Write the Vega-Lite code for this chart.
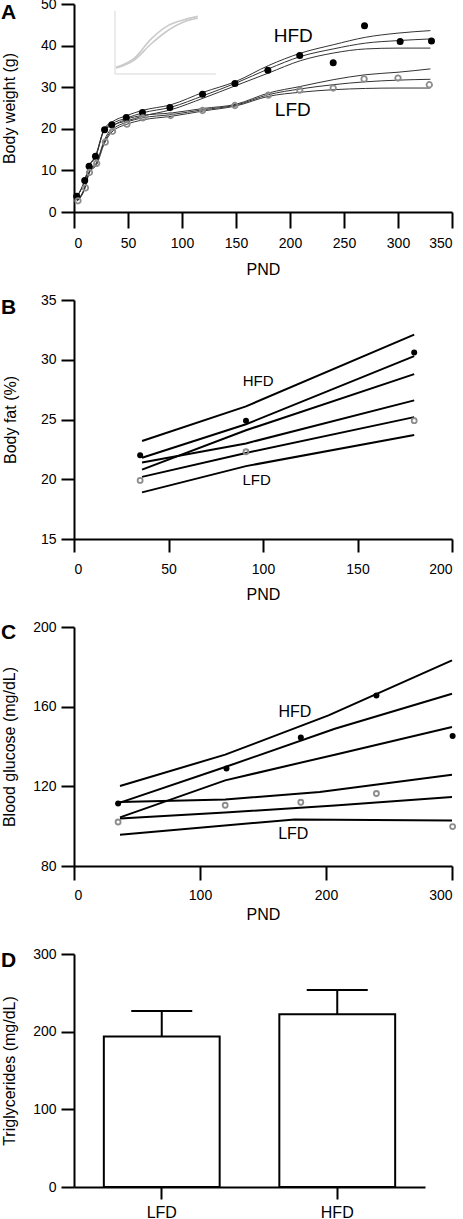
{
  "$schema": "https://vega.github.io/schema/vega-lite/v6.json",
  "autosize": {"type": "pad"},
  "padding": {"top": -3, "left": 0, "right": 0, "bottom": 0},
  "background": "white",
  "bounds": "flush",
  "spacing": 88,
  "config": {
    "font": "Liberation Sans",
    "view": {"stroke": null},
    "scale": {"continuousPadding": 0},
    "axis": {
      "grid": false,
      "domainColor": "black",
      "domainWidth": 2,
      "tickColor": "black",
      "tickWidth": 2,
      "tickSize": 13,
      "labelFont": "Liberation Sans",
      "labelFontSize": 14,
      "labelColor": "black",
      "labelPadding": 4,
      "titleFont": "Liberation Sans",
      "titleFontSize": 16,
      "titleFontWeight": "normal",
      "titleColor": "black"
    },
    "axisY": {"labelPadding": 5}
  },
  "datasets": {
    "letters": [
      {"panel": "A", "day": -67.6, "val": 46.4, "label": "A"},
      {"panel": "B", "day": -38.6, "val": 33.8, "label": "B"},
      {"panel": "C", "day": -57.9, "val": 194.0, "label": "C"},
      {"panel": "C", "day": -57.9, "val": 29.5, "label": "D"}
    ],
    "bwPoints": [
      {"day": 2.5, "bw": 3.8, "diet": "HFD"}, {"day": 9.9, "bw": 7.6, "diet": "HFD"}, {"day": 14, "bw": 11.0, "diet": "HFD"},
      {"day": 19.9, "bw": 13.4, "diet": "HFD"}, {"day": 28.3, "bw": 19.8, "diet": "HFD"}, {"day": 35, "bw": 21.0, "diet": "HFD"},
      {"day": 48.4, "bw": 22.7, "diet": "HFD"}, {"day": 63.4, "bw": 23.9, "diet": "HFD"}, {"day": 88.8, "bw": 25.1, "diet": "HFD"},
      {"day": 119, "bw": 28.3, "diet": "HFD"}, {"day": 149, "bw": 30.9, "diet": "HFD"}, {"day": 179.5, "bw": 34.1, "diet": "HFD"},
      {"day": 209, "bw": 37.6, "diet": "HFD"}, {"day": 240, "bw": 35.9, "diet": "HFD"}, {"day": 269, "bw": 44.8, "diet": "HFD"},
      {"day": 302, "bw": 41.0, "diet": "HFD"}, {"day": 331, "bw": 41.1, "diet": "HFD"},
      {"day": 3.7, "bw": 2.7, "diet": "LFD"}, {"day": 10.6, "bw": 5.8, "diet": "LFD"}, {"day": 14.3, "bw": 9.5, "diet": "LFD"},
      {"day": 21, "bw": 11.7, "diet": "LFD"}, {"day": 29, "bw": 16.8, "diet": "LFD"}, {"day": 35.7, "bw": 19.4, "diet": "LFD"},
      {"day": 49, "bw": 21.1, "diet": "LFD"}, {"day": 63.7, "bw": 22.6, "diet": "LFD"}, {"day": 89.4, "bw": 23.2, "diet": "LFD"},
      {"day": 119, "bw": 24.4, "diet": "LFD"}, {"day": 149, "bw": 25.6, "diet": "LFD"}, {"day": 180, "bw": 28.1, "diet": "LFD"},
      {"day": 209, "bw": 29.3, "diet": "LFD"}, {"day": 240, "bw": 29.8, "diet": "LFD"}, {"day": 268.6, "bw": 32.0, "diet": "LFD"},
      {"day": 300, "bw": 32.2, "diet": "LFD"}, {"day": 329, "bw": 30.6, "diet": "LFD"}
    ],
    "bwFit": [
      {"day": 3, "bw": 3.8, "curve": "HFD upper"}, {"day": 10, "bw": 7.6, "curve": "HFD upper"}, {"day": 14, "bw": 11.0, "curve": "HFD upper"},
      {"day": 20, "bw": 13.6, "curve": "HFD upper"}, {"day": 28, "bw": 20.0, "curve": "HFD upper"}, {"day": 35, "bw": 21.6, "curve": "HFD upper"},
      {"day": 49, "bw": 23.2, "curve": "HFD upper"}, {"day": 63, "bw": 24.4, "curve": "HFD upper"}, {"day": 90, "bw": 25.8, "curve": "HFD upper"},
      {"day": 120, "bw": 28.8, "curve": "HFD upper"}, {"day": 150, "bw": 31.4, "curve": "HFD upper"}, {"day": 180, "bw": 35.2, "curve": "HFD upper"},
      {"day": 210, "bw": 38.2, "curve": "HFD upper"}, {"day": 240, "bw": 40.2, "curve": "HFD upper"}, {"day": 270, "bw": 42.0, "curve": "HFD upper"},
      {"day": 300, "bw": 43.0, "curve": "HFD upper"}, {"day": 330, "bw": 43.6, "curve": "HFD upper"},
      {"day": 3, "bw": 3.8, "curve": "HFD mid"}, {"day": 10, "bw": 7.6, "curve": "HFD mid"}, {"day": 14, "bw": 11.0, "curve": "HFD mid"},
      {"day": 20, "bw": 13.4, "curve": "HFD mid"}, {"day": 28, "bw": 19.8, "curve": "HFD mid"}, {"day": 35, "bw": 21.2, "curve": "HFD mid"},
      {"day": 49, "bw": 22.6, "curve": "HFD mid"}, {"day": 63, "bw": 23.8, "curve": "HFD mid"}, {"day": 90, "bw": 25.2, "curve": "HFD mid"},
      {"day": 120, "bw": 28.0, "curve": "HFD mid"}, {"day": 150, "bw": 31.0, "curve": "HFD mid"}, {"day": 180, "bw": 34.4, "curve": "HFD mid"},
      {"day": 210, "bw": 37.4, "curve": "HFD mid"}, {"day": 240, "bw": 39.2, "curve": "HFD mid"}, {"day": 270, "bw": 40.6, "curve": "HFD mid"},
      {"day": 300, "bw": 41.2, "curve": "HFD mid"}, {"day": 330, "bw": 41.6, "curve": "HFD mid"},
      {"day": 3, "bw": 3.7, "curve": "HFD lower"}, {"day": 10, "bw": 7.5, "curve": "HFD lower"}, {"day": 14, "bw": 10.9, "curve": "HFD lower"},
      {"day": 20, "bw": 13.2, "curve": "HFD lower"}, {"day": 28, "bw": 19.6, "curve": "HFD lower"}, {"day": 35, "bw": 20.8, "curve": "HFD lower"},
      {"day": 49, "bw": 21.9, "curve": "HFD lower"}, {"day": 63, "bw": 23.0, "curve": "HFD lower"}, {"day": 90, "bw": 24.6, "curve": "HFD lower"},
      {"day": 120, "bw": 27.4, "curve": "HFD lower"}, {"day": 150, "bw": 30.4, "curve": "HFD lower"}, {"day": 180, "bw": 33.4, "curve": "HFD lower"},
      {"day": 210, "bw": 36.4, "curve": "HFD lower"}, {"day": 240, "bw": 38.2, "curve": "HFD lower"}, {"day": 270, "bw": 39.2, "curve": "HFD lower"},
      {"day": 300, "bw": 39.4, "curve": "HFD lower"}, {"day": 330, "bw": 39.4, "curve": "HFD lower"},
      {"day": 3, "bw": 2.8, "curve": "LFD upper"}, {"day": 10, "bw": 6.0, "curve": "LFD upper"}, {"day": 14, "bw": 9.7, "curve": "LFD upper"},
      {"day": 21, "bw": 12.0, "curve": "LFD upper"}, {"day": 28, "bw": 17.2, "curve": "LFD upper"}, {"day": 35, "bw": 20.2, "curve": "LFD upper"},
      {"day": 49, "bw": 22.3, "curve": "LFD upper"}, {"day": 63, "bw": 23.2, "curve": "LFD upper"}, {"day": 90, "bw": 23.8, "curve": "LFD upper"},
      {"day": 120, "bw": 24.9, "curve": "LFD upper"}, {"day": 150, "bw": 25.9, "curve": "LFD upper"}, {"day": 180, "bw": 28.6, "curve": "LFD upper"},
      {"day": 210, "bw": 30.2, "curve": "LFD upper"}, {"day": 240, "bw": 31.8, "curve": "LFD upper"}, {"day": 270, "bw": 33.0, "curve": "LFD upper"},
      {"day": 300, "bw": 33.6, "curve": "LFD upper"}, {"day": 330, "bw": 34.4, "curve": "LFD upper"},
      {"day": 3, "bw": 2.7, "curve": "LFD mid"}, {"day": 10, "bw": 5.8, "curve": "LFD mid"}, {"day": 14, "bw": 9.5, "curve": "LFD mid"},
      {"day": 21, "bw": 11.7, "curve": "LFD mid"}, {"day": 28, "bw": 16.8, "curve": "LFD mid"}, {"day": 35, "bw": 19.6, "curve": "LFD mid"},
      {"day": 49, "bw": 21.6, "curve": "LFD mid"}, {"day": 63, "bw": 22.6, "curve": "LFD mid"}, {"day": 90, "bw": 23.4, "curve": "LFD mid"},
      {"day": 120, "bw": 24.6, "curve": "LFD mid"}, {"day": 150, "bw": 25.7, "curve": "LFD mid"}, {"day": 180, "bw": 28.2, "curve": "LFD mid"},
      {"day": 210, "bw": 29.6, "curve": "LFD mid"}, {"day": 240, "bw": 30.6, "curve": "LFD mid"}, {"day": 270, "bw": 31.3, "curve": "LFD mid"},
      {"day": 300, "bw": 31.7, "curve": "LFD mid"}, {"day": 330, "bw": 31.9, "curve": "LFD mid"},
      {"day": 3, "bw": 2.6, "curve": "LFD lower"}, {"day": 10, "bw": 5.6, "curve": "LFD lower"}, {"day": 14, "bw": 9.3, "curve": "LFD lower"},
      {"day": 21, "bw": 11.4, "curve": "LFD lower"}, {"day": 28, "bw": 16.4, "curve": "LFD lower"}, {"day": 35, "bw": 19.2, "curve": "LFD lower"},
      {"day": 49, "bw": 21.1, "curve": "LFD lower"}, {"day": 63, "bw": 22.1, "curve": "LFD lower"}, {"day": 90, "bw": 23.0, "curve": "LFD lower"},
      {"day": 120, "bw": 24.3, "curve": "LFD lower"}, {"day": 150, "bw": 25.5, "curve": "LFD lower"}, {"day": 180, "bw": 27.8, "curve": "LFD lower"},
      {"day": 210, "bw": 28.8, "curve": "LFD lower"}, {"day": 240, "bw": 29.4, "curve": "LFD lower"}, {"day": 270, "bw": 29.7, "curve": "LFD lower"},
      {"day": 300, "bw": 29.8, "curve": "LFD lower"}, {"day": 330, "bw": 29.8, "curve": "LFD lower"}
    ],
    "inset": [
      {"ix": 1, "iy": 10.6, "curve": "a"}, {"ix": 19, "iy": 24.8, "curve": "a"}, {"ix": 35.6, "iy": 55, "curve": "a"},
      {"ix": 52, "iy": 76, "curve": "a"}, {"ix": 68.6, "iy": 85.8, "curve": "a"}, {"ix": 82, "iy": 91, "curve": "a"},
      {"ix": 1, "iy": 9.5, "curve": "b"}, {"ix": 19, "iy": 22, "curve": "b"}, {"ix": 35.6, "iy": 47.4, "curve": "b"},
      {"ix": 52, "iy": 68.4, "curve": "b"}, {"ix": 68.6, "iy": 82.6, "curve": "b"}, {"ix": 82, "iy": 88, "curve": "b"}
    ],
    "insetAxes": [
      {"ix": 0, "iy": 0, "ix2": 100, "iy2": 0},
      {"ix": 0, "iy": 0, "ix2": 0, "iy2": 100}
    ],
    "bwLabels": [
      {"day": 203, "bw": 42.4, "label": "HFD"},
      {"day": 202.6, "bw": 24.6, "label": "LFD"}
    ],
    "fatPoints": [
      {"day": 35, "fat": 22.0, "diet": "HFD"}, {"day": 91, "fat": 24.9, "diet": "HFD"}, {"day": 180, "fat": 30.6, "diet": "HFD"},
      {"day": 35, "fat": 19.9, "diet": "LFD"}, {"day": 91, "fat": 22.3, "diet": "LFD"}, {"day": 180, "fat": 24.9, "diet": "LFD"}
    ],
    "fatFit": [
      {"day": 36, "fat": 23.2, "line": "1"}, {"day": 91, "fat": 26.1, "line": "1"}, {"day": 180, "fat": 32.1, "line": "1"},
      {"day": 36, "fat": 21.8, "line": "2"}, {"day": 91, "fat": 24.6, "line": "2"}, {"day": 180, "fat": 30.3, "line": "2"},
      {"day": 36, "fat": 20.8, "line": "3"}, {"day": 91, "fat": 24.1, "line": "3"}, {"day": 180, "fat": 28.8, "line": "3"},
      {"day": 36, "fat": 21.4, "line": "4"}, {"day": 91, "fat": 23.0, "line": "4"}, {"day": 180, "fat": 26.6, "line": "4"},
      {"day": 36, "fat": 20.2, "line": "5"}, {"day": 91, "fat": 22.2, "line": "5"}, {"day": 180, "fat": 25.2, "line": "5"},
      {"day": 36, "fat": 18.9, "line": "6"}, {"day": 91, "fat": 21.1, "line": "6"}, {"day": 180, "fat": 23.7, "line": "6"}
    ],
    "fatLabels": [
      {"day": 97.4, "fat": 28.2, "label": "HFD"},
      {"day": 96.6, "fat": 19.9, "label": "LFD"}
    ],
    "gluPoints": [
      {"day": 35, "glu": 111.4, "diet": "HFD"}, {"day": 121, "glu": 128.9, "diet": "HFD"}, {"day": 180, "glu": 144.5, "diet": "HFD"},
      {"day": 240, "glu": 165.6, "diet": "HFD"}, {"day": 300.5, "glu": 145.3, "diet": "HFD"},
      {"day": 35, "glu": 102.1, "diet": "LFD"}, {"day": 120, "glu": 110.5, "diet": "LFD"}, {"day": 180, "glu": 112.0, "diet": "LFD"},
      {"day": 240, "glu": 116.4, "diet": "LFD"}, {"day": 300.5, "glu": 99.8, "diet": "LFD"}
    ],
    "gluFit": [
      {"day": 36.5, "glu": 120.2, "line": "1"}, {"day": 120, "glu": 135.9, "line": "1"}, {"day": 202, "glu": 155.6, "line": "1"}, {"day": 300, "glu": 183.2, "line": "1"},
      {"day": 36.5, "glu": 111.8, "line": "2"}, {"day": 120, "glu": 129.7, "line": "2"}, {"day": 207, "glu": 148.9, "line": "2"}, {"day": 300, "glu": 166.5, "line": "2"},
      {"day": 36.5, "glu": 104.4, "line": "3"}, {"day": 120, "glu": 123.0, "line": "3"}, {"day": 207, "glu": 135.9, "line": "3"}, {"day": 300, "glu": 149.8, "line": "3"},
      {"day": 36.5, "glu": 112.1, "line": "4"}, {"day": 120, "glu": 113.4, "line": "4"}, {"day": 195, "glu": 117.1, "line": "4"}, {"day": 300, "glu": 125.8, "line": "4"},
      {"day": 36.5, "glu": 103.9, "line": "5"}, {"day": 120, "glu": 106.8, "line": "5"}, {"day": 207, "glu": 110.4, "line": "5"}, {"day": 300, "glu": 114.6, "line": "5"},
      {"day": 36.5, "glu": 95.7, "line": "6"}, {"day": 175, "glu": 103.4, "line": "6"}, {"day": 300, "glu": 102.9, "line": "6"}
    ],
    "gluLabels": [
      {"day": 175.3, "glu": 157.3, "label": "HFD"},
      {"day": 174, "glu": 96.2, "label": "LFD"}
    ],
    "tg": [
      {"diet": "LFD", "tg": 193.8, "upper": 226.7},
      {"diet": "HFD", "tg": 222.4, "upper": 253.7}
    ]
  },
  "vconcat": [
    {
      "width": 378,
      "height": 208,
      "layer": [
        {
          "layer": [
            {
              "data": {"name": "insetAxes"},
              "mark": {"type": "rule", "color": "#d8d8d8", "strokeWidth": 1},
              "encoding": {
                "x": {"field": "ix", "type": "quantitative", "scale": {"domain": [-40.6, 333.7], "nice": false, "zero": false, "padding": 0}, "axis": null},
                "x2": {"field": "ix2"},
                "y": {"field": "iy", "type": "quantitative", "scale": {"domain": [-218, 110.6], "nice": false, "zero": false, "padding": 0}, "axis": null},
                "y2": {"field": "iy2"}
              }
            },
            {
              "data": {"name": "inset"},
              "mark": {"type": "line", "color": "#cacaca", "strokeWidth": 1.6, "interpolate": "monotone"},
              "encoding": {
                "x": {"field": "ix", "type": "quantitative", "axis": null},
                "y": {"field": "iy", "type": "quantitative", "axis": null},
                "detail": {"field": "curve"}
              }
            }
          ]
        },
        {
          "layer": [
            {
              "data": {"name": "bwFit"},
              "mark": {"type": "line", "color": "#333333", "strokeWidth": 1, "interpolate": "monotone"},
              "encoding": {
                "x": {"field": "day", "type": "quantitative", "scale": {"domain": [0, 350], "nice": false, "zero": false, "padding": 0},
                      "axis": {"title": "PND", "values": [0, 50, 100, 150, 200, 250, 300, 350], "tickSize": 16, "labelPadding": 8, "titlePadding": 11}},
                "y": {"field": "bw", "type": "quantitative", "scale": {"domain": [0, 50], "nice": false, "zero": false, "padding": 0},
                      "axis": {"title": "Body weight (g)", "values": [0, 10, 20, 30, 40, 50], "titlePadding": 23}},
                "detail": {"field": "curve"}
              }
            },
            {
              "data": {"name": "bwPoints"},
              "transform": [{"filter": "datum.diet === 'HFD'"}],
              "mark": {"type": "point", "filled": true, "color": "black", "size": 49, "opacity": 1},
              "encoding": {
                "x": {"field": "day", "type": "quantitative"},
                "y": {"field": "bw", "type": "quantitative"}
              }
            },
            {
              "data": {"name": "bwPoints"},
              "transform": [{"filter": "datum.diet === 'LFD'"}],
              "mark": {"type": "point", "filled": false, "color": "#8c8c8c", "strokeWidth": 1.8, "size": 30, "opacity": 1},
              "encoding": {
                "x": {"field": "day", "type": "quantitative"},
                "y": {"field": "bw", "type": "quantitative"}
              }
            },
            {
              "data": {"name": "bwLabels"},
              "mark": {"type": "text", "fontSize": 19, "font": "Liberation Sans Narrow, Liberation Sans", "align": "center", "baseline": "middle", "color": "black"},
              "encoding": {
                "x": {"field": "day", "type": "quantitative"},
                "y": {"field": "bw", "type": "quantitative"},
                "text": {"field": "label"}
              }
            },
            {
              "data": {"name": "letters"},
              "transform": [{"filter": "datum.panel === 'A'"}],
              "mark": {"type": "text", "fontSize": 21, "fontWeight": "bold", "font": "Liberation Sans", "align": "left", "baseline": "alphabetic", "color": "black"},
              "encoding": {
                "x": {"field": "day", "type": "quantitative"},
                "y": {"field": "val", "type": "quantitative"},
                "text": {"field": "label"}
              }
            }
          ]
        }
      ],
      "resolve": {"scale": {"x": "independent", "y": "independent"}}
    },
    {
      "width": 378,
      "height": 239,
      "layer": [
        {
          "data": {"name": "fatFit"},
          "mark": {"type": "line", "color": "black", "strokeWidth": 2},
          "encoding": {
            "x": {"field": "day", "type": "quantitative", "scale": {"domain": [0, 200], "nice": false, "zero": false, "padding": 0},
                  "axis": {"title": "PND", "values": [0, 50, 100, 150, 200], "labelPadding": 10, "titlePadding": 10}},
            "y": {"field": "fat", "type": "quantitative", "scale": {"domain": [15, 35], "nice": false, "zero": false, "padding": 0},
                  "axis": {"title": "Body fat (%)", "values": [15, 20, 25, 30, 35], "titlePadding": 22}},
            "detail": {"field": "line"}
          }
        },
        {
          "data": {"name": "fatPoints"},
          "transform": [{"filter": "datum.diet === 'HFD'"}],
          "mark": {"type": "point", "filled": true, "color": "black", "size": 36, "opacity": 1},
          "encoding": {
            "x": {"field": "day", "type": "quantitative"},
            "y": {"field": "fat", "type": "quantitative"}
          }
        },
        {
          "data": {"name": "fatPoints"},
          "transform": [{"filter": "datum.diet === 'LFD'"}],
          "mark": {"type": "point", "filled": false, "color": "#8c8c8c", "strokeWidth": 1.8, "size": 25, "opacity": 1},
          "encoding": {
            "x": {"field": "day", "type": "quantitative"},
            "y": {"field": "fat", "type": "quantitative"}
          }
        },
        {
          "data": {"name": "fatLabels"},
          "mark": {"type": "text", "fontSize": 15, "font": "Liberation Sans", "align": "center", "baseline": "middle", "color": "black"},
          "encoding": {
            "x": {"field": "day", "type": "quantitative"},
            "y": {"field": "fat", "type": "quantitative"},
            "text": {"field": "label"}
          }
        },
        {
          "data": {"name": "letters"},
          "transform": [{"filter": "datum.panel === 'B'"}],
          "mark": {"type": "text", "fontSize": 21, "fontWeight": "bold", "font": "Liberation Sans", "align": "left", "baseline": "alphabetic", "color": "black"},
          "encoding": {
            "x": {"field": "day", "type": "quantitative"},
            "y": {"field": "val", "type": "quantitative"},
            "text": {"field": "label"}
          }
        }
      ]
    },
    {
      "width": 378,
      "height": 239,
      "layer": [
        {
          "data": {"name": "gluFit"},
          "mark": {"type": "line", "color": "black", "strokeWidth": 2},
          "encoding": {
            "x": {"field": "day", "type": "quantitative", "scale": {"domain": [0, 300], "nice": false, "zero": false, "padding": 0},
                  "axis": {"title": "PND", "values": [0, 100, 200, 300], "tickSize": 14, "labelPadding": 8, "titlePadding": 4}},
            "y": {"field": "glu", "type": "quantitative", "scale": {"domain": [80, 200], "nice": false, "zero": false, "padding": 0},
                  "axis": {"title": "Blood glucose (mg/dL)", "values": [80, 100, 120, 140, 160, 180, 200], "titlePadding": 15}},
            "detail": {"field": "line"}
          }
        },
        {
          "data": {"name": "gluPoints"},
          "transform": [{"filter": "datum.diet === 'HFD'"}],
          "mark": {"type": "point", "filled": true, "color": "black", "size": 36, "opacity": 1},
          "encoding": {
            "x": {"field": "day", "type": "quantitative"},
            "y": {"field": "glu", "type": "quantitative"}
          }
        },
        {
          "data": {"name": "gluPoints"},
          "transform": [{"filter": "datum.diet === 'LFD'"}],
          "mark": {"type": "point", "filled": false, "color": "#8c8c8c", "strokeWidth": 1.8, "size": 25, "opacity": 1},
          "encoding": {
            "x": {"field": "day", "type": "quantitative"},
            "y": {"field": "glu", "type": "quantitative"}
          }
        },
        {
          "data": {"name": "gluLabels"},
          "mark": {"type": "text", "fontSize": 16, "font": "Liberation Sans", "align": "center", "baseline": "middle", "color": "black"},
          "encoding": {
            "x": {"field": "day", "type": "quantitative"},
            "y": {"field": "glu", "type": "quantitative"},
            "text": {"field": "label"}
          }
        },
        {
          "data": {"name": "letters"},
          "transform": [{"filter": "datum.panel === 'C'"}],
          "mark": {"type": "text", "fontSize": 21, "fontWeight": "bold", "font": "Liberation Sans", "align": "left", "baseline": "alphabetic", "color": "black"},
          "encoding": {
            "x": {"field": "day", "type": "quantitative"},
            "y": {"field": "val", "type": "quantitative"},
            "text": {"field": "label"}
          }
        }
      ]
    },
    {
      "width": 351,
      "height": 233,
      "data": {"name": "tg"},
      "layer": [
        {
          "mark": {"type": "bar", "fill": "white", "stroke": "black", "strokeWidth": 2},
          "encoding": {
            "x": {"field": "diet", "type": "nominal", "sort": ["LFD", "HFD"], "scale": {"paddingInner": 0.34, "paddingOuter": 0.17},
                  "axis": {"title": null, "labelAngle": 0, "labelFontSize": 16, "tickSize": 12, "labelPadding": 5}},
            "y": {"field": "tg", "type": "quantitative", "scale": {"domain": [0, 300], "nice": false, "zero": false, "padding": 0},
                  "axis": {"title": "Triglycerides (mg/dL)", "values": [0, 100, 200, 300], "titlePadding": 15}}
          }
        },
        {
          "mark": {"type": "rule", "color": "black", "strokeWidth": 2},
          "encoding": {
            "x": {"field": "diet", "type": "nominal", "sort": ["LFD", "HFD"]},
            "y": {"field": "tg", "type": "quantitative"},
            "y2": {"field": "upper"}
          }
        },
        {
          "mark": {"type": "tick", "color": "black", "thickness": 2, "size": 61, "opacity": 1},
          "encoding": {
            "x": {"field": "diet", "type": "nominal", "sort": ["LFD", "HFD"]},
            "y": {"field": "upper", "type": "quantitative"}
          }
        }
      ]
    }
  ]
}
